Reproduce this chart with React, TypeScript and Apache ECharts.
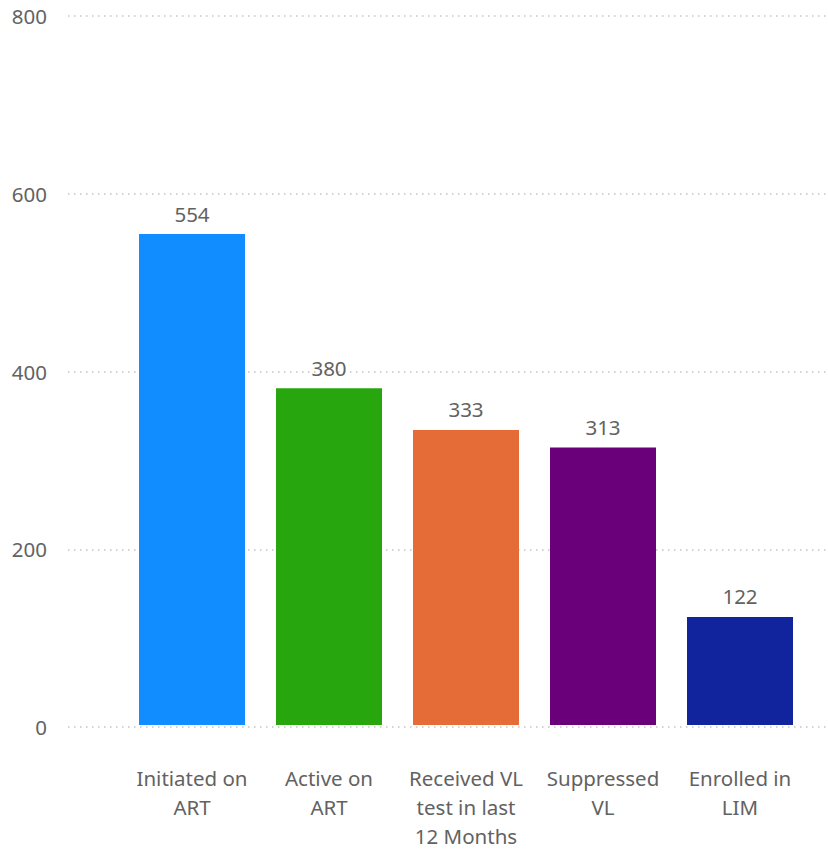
import React, { useEffect, useRef } from "react";
import * as echarts from "echarts";

const categories = [
  "Initiated on\nART",
  "Active on\nART",
  "Received VL\ntest in last\n12 Months",
  "Suppressed\nVL",
  "Enrolled in\nLIM",
];
const values = [554, 380, 333, 313, 122];
const barColors = ["#118DFF", "#28A60E", "#E66C37", "#6B007B", "#12239E"];
const yTicks = [0, 200, 400, 600, 800];

const FONT = "'Noto Sans', 'Open Sans', sans-serif";
const TEXT = "#626262";

export default function App() {
  const ref = useRef<HTMLDivElement>(null);
  useEffect(() => {
    document.body.style.margin = "0";
    const chart = echarts.init(ref.current!, null, { renderer: "svg" });
    const yMin = yTicks[0];
    const yMax = yTicks[yTicks.length - 1];
    const yInt = yTicks[1] - yTicks[0];
    chart.setOption({
      animation: false,
      textStyle: { fontFamily: FONT },
      grid: [
        { left: 68, right: 0, top: 16, bottom: 123 },
        { left: 123.5, right: 19.5, top: 16, bottom: 123 },
      ],
      xAxis: [
        { type: "value", gridIndex: 0, show: false, min: 0, max: 1 },
        {
          type: "category",
          gridIndex: 1,
          data: categories,
          axisLine: { show: false },
          axisTick: { show: false },
          axisLabel: {
            color: TEXT,
            fontSize: 20.5,
            lineHeight: 29,
            margin: 38,
            fontFamily: FONT,
            interval: 0,
          },
        },
      ],
      yAxis: [
        {
          type: "value",
          gridIndex: 0,
          min: yMin,
          max: yMax,
          interval: yInt,
          axisLine: { show: false },
          axisTick: { show: false },
          axisLabel: { color: TEXT, fontSize: 20.5, margin: 21, fontFamily: FONT },
          splitLine: {
            show: true,
            lineStyle: { color: "#C4C4C4", width: 1.5, type: [1.5, 4.5] },
          },
        },
        {
          type: "value",
          gridIndex: 1,
          min: yMin,
          max: yMax,
          interval: yInt,
          show: false,
          splitLine: { show: false },
        },
      ],
      series: [
        {
          type: "bar",
          xAxisIndex: 1,
          yAxisIndex: 1,
          barWidth: 106,
          data: values.map((v, i) => ({ value: v, itemStyle: { color: barColors[i] } })),
          label: {
            show: true,
            position: "top",
            distance: 10,
            color: TEXT,
            fontSize: 20.5,
            fontFamily: FONT,
          },
        },
      ],
    });
    return () => chart.dispose();
  }, []);
  return (
    <div
      ref={ref}
      style={{ position: "absolute", left: 0, top: 0, width: 828, height: 850 }}
    />
  );
}
